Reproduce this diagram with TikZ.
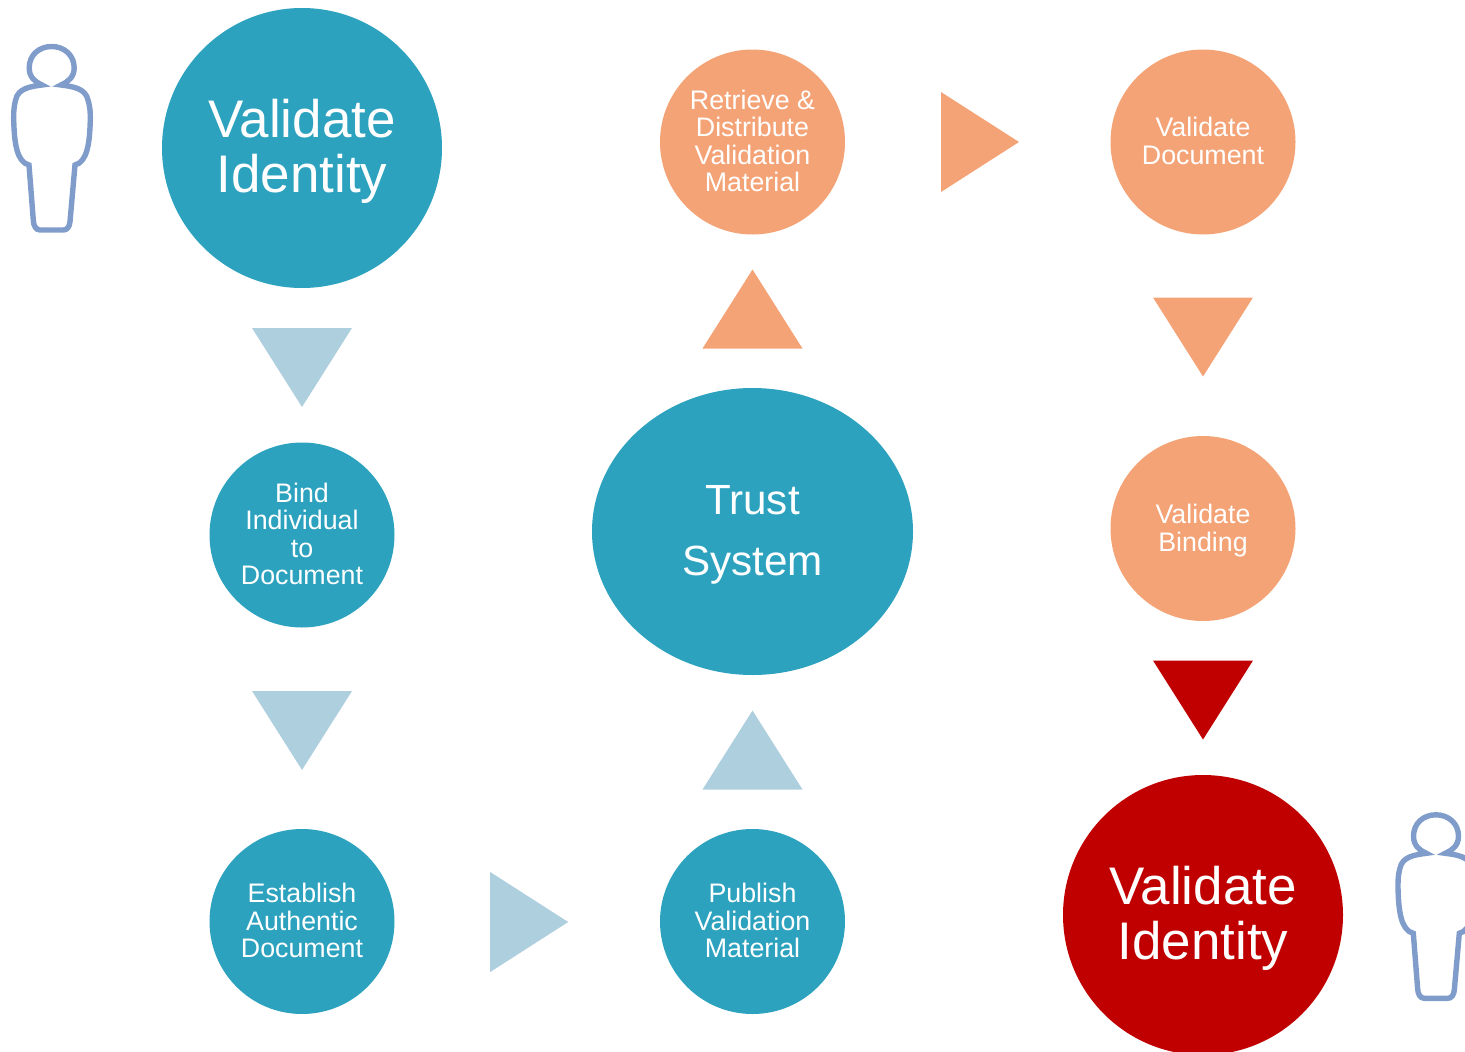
\documentclass[tikz,border=0pt]{standalone}
\usepackage{fontspec}
\setmainfont{Liberation Sans}
\usetikzlibrary{shapes.geometric}

\definecolor{tealblue}{HTML}{2CA2BF}
\definecolor{softorange}{HTML}{F4A376}
\definecolor{paleblue}{HTML}{AECFDE}
\definecolor{darkred}{HTML}{C00000}
\definecolor{personblue}{HTML}{7F9CCB}

\newcommand{\toppad}[1]{\rule{0pt}{#1pt}}
\newcommand{\botpad}{\rule[-2pt]{0pt}{2pt}}

\tikzset{
  bigstep/.style={circle,minimum size=280pt,inner sep=0pt,text=white,align=center,font=\fontsize{52.9}{55}\selectfont},
  smallstep/.style={circle,minimum size=185pt,inner sep=0pt,text=white,align=center,font=\fontsize{26.8}{27.5}\selectfont},
  trustnode/.style={ellipse,minimum width=321pt,minimum height=287pt,inner sep=0pt,text=white,align=center,fill=tealblue,font=\fontsize{42.2}{61}\selectfont},
  pics/arrowdown/.style={code={\fill[pic actions] (-50,-39.5) -- (50,-39.5) -- (0,39.5) -- cycle;}},
  pics/arrowup/.style={code={\fill[pic actions] (-50,39.5) -- (50,39.5) -- (0,-39.5) -- cycle;}},
  pics/arrowright/.style={code={\fill[pic actions] (-39,-50) -- (-39,50) -- (39,0) -- cycle;}},
  pics/person/.style={code={
    \draw[personblue,line width=5.4pt,line join=miter]
      (29.2,38) .. controls (29.2,25) and (39,16.5) .. (51.7,16.5)
      .. controls (64,16.5) and (74.2,25) .. (74.2,38)
      .. controls (74.2,47) and (68,52) .. (61,55)
      .. controls (72,56.5) and (85.5,58) .. (88,70)
      .. controls (90.5,78) and (90.5,86) .. (90.2,93)
      .. controls (89.5,112) and (87.5,132) .. (75,135)
      -- (70,191.7) .. controls (69.5,197) and (67,200) .. (63.3,200)
      -- (40,200) .. controls (36,200) and (33.5,196) .. (33.3,190)
      -- (29,135) .. controls (16.5,132) and (14.5,112) .. (13.8,93)
      .. controls (13.5,86) and (13.5,78) .. (15.6,70)
      .. controls (18,58) and (31,56.5) .. (42,55)
      .. controls (35,52) and (29.2,47) .. cycle;
  }}
}

\begin{document}
\begin{tikzpicture}[x=1pt,y=-1pt]
  \useasboundingbox (0,0) rectangle (1465,1052);
  \clip (0,0) rectangle (1465,1052);
  \pic (person1) at (0,30) {person};
  \pic (person2) at (1384.3,798.3) {person};
  \node[bigstep,fill=tealblue] (identity1) at (302,148) {\toppad{44.5}Validate\\Identity};
  \node[smallstep,fill=tealblue] (bind) at (302,535) {Bind\\Individual\\to\\Document\botpad};
  \node[smallstep,fill=tealblue] (establish) at (302,921.5) {Establish\\Authentic\\Document\botpad};
  \node[smallstep,fill=tealblue] (publish) at (752.5,921.5) {Publish\\Validation\\Material\botpad};
  \node[trustnode] (trust) at (752.5,531.5) {\toppad{35.2}Trust\\System};
  \node[smallstep,fill=softorange] (retrieve) at (752.5,142) {Retrieve \&\\Distribute\\Validation\\Material\botpad};
  \node[smallstep,fill=softorange] (document) at (1203,142) {Validate\\Document\botpad};
  \node[smallstep,fill=softorange] (binding) at (1203,528.5) {\toppad{23.5}Validate\\Binding};
  \node[bigstep,fill=darkred] (identity2) at (1203,915) {\toppad{44.5}Validate\\Identity};
  \pic[fill=paleblue] (arrow1) at (302,367.5) {arrowdown};
  \pic[fill=paleblue] (arrow2) at (302,730.5) {arrowdown};
  \pic[fill=paleblue] (arrow3) at (529.2,922) {arrowright};
  \pic[fill=paleblue] (arrow4) at (752.5,750) {arrowup};
  \pic[fill=softorange] (arrow5) at (752.5,309) {arrowup};
  \pic[fill=softorange] (arrow6) at (980,142) {arrowright};
  \pic[fill=softorange] (arrow7) at (1203,337) {arrowdown};
  \pic[fill=darkred] (arrow8) at (1203,700) {arrowdown};
\end{tikzpicture}
\end{document}
